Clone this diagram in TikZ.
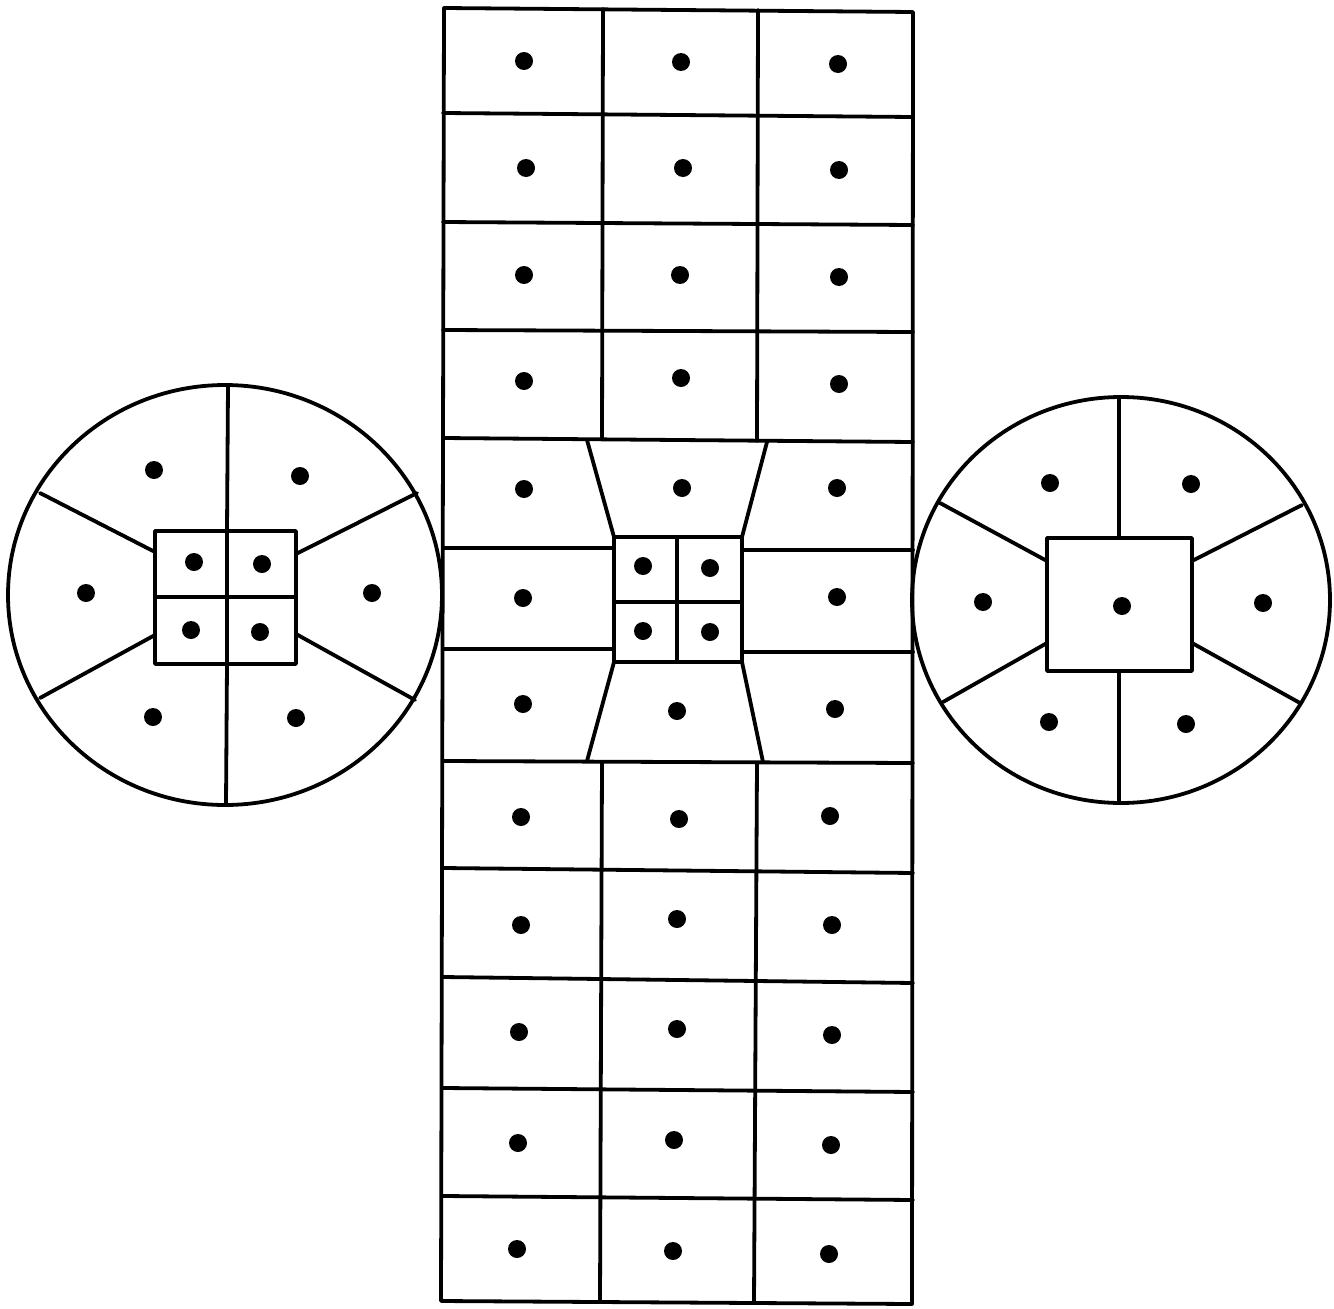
\documentclass[tikz,border=0pt]{standalone}
\begin{document}
\begin{tikzpicture}[x=1pt,y=-1pt,
  wall/.style={line width=3.8pt,line join=round,line cap=round},
  dotmark/.style={fill=black}]
\useasboundingbox (0,0) rectangle (1334,1309);
% ---- central strip ----
\draw[wall] (444,8) -- (913,12) -- (912,1304) -- (441,1301) -- cycle;
% full-width row lines
\foreach \yl/\yr in {113/117,222/225,330/332,438/442,761/763,868/873,977/983,1088/1092,1196/1200}
  \draw[wall] (443,\yl) -- (913,\yr);
% column lines upper and lower
\draw[wall] (603,9) -- (602,439);
\draw[wall] (758,10) -- (757,441);
\draw[wall] (602,762) -- (600,1302);
\draw[wall] (757,763) -- (754,1303);
% middle section
\draw[wall] (614,537) rectangle (742,662);
\draw[wall] (677,537) -- (677,662);
\draw[wall] (614,602) -- (742,602);
\draw[wall] (587,440) -- (614,537);
\draw[wall] (767,442) -- (742,537);
\draw[wall] (614,662) -- (587,761);
\draw[wall] (742,662) -- (763,762);
\draw[wall] (443,548) -- (614,548);
\draw[wall] (742,550) -- (913,550);
\draw[wall] (443,649) -- (614,649);
\draw[wall] (742,652) -- (913,652);
% dots of the strip
\foreach \p in {(524,61),(681,62),(838,64),
  (526,168),(683,168),(839,170),
  (524,275),(680,275),(839,277),
  (524,381),(681,378),(839,384),
  (524,489),(682,488),(837,488),
  (523,598),(837,597),
  (643,566),(710,568),(643,631),(710,632),
  (523,704),(677,711),(835,709),
  (521,817),(679,819),(830,816),
  (521,925),(677,919),(832,925),
  (519,1032),(677,1029),(832,1035),
  (518,1143),(674,1140),(831,1145),
  (517,1249),(673,1251),(829,1254)}
  \fill[dotmark] \p circle (9);
% ---- left circle ----
\draw[wall] (225,595) ellipse [x radius=217, y radius=210];
\draw[wall] (155,531) rectangle (296,664);
\draw[wall] (227,531) -- (227,664);
\draw[wall] (155,597) -- (296,597);
\draw[wall] (228,386) -- (227,531);
\draw[wall] (227,664) -- (226,804);
\draw[wall] (40,493) -- (155,552);
\draw[wall] (296,554) -- (417,493);
\draw[wall] (40,698) -- (155,635);
\draw[wall] (296,634) -- (415,700);
\foreach \p in {(154,470),(300,476),(86,593),(372,593),(153,717),(296,718),
  (194,562),(262,564),(191,630),(260,632)}
  \fill[dotmark] \p circle (9);
% ---- right circle ----
\draw[wall] (1121,600) ellipse [x radius=209, y radius=203];
\draw[wall] (1047,538) rectangle (1192,671);
\draw[wall] (1119,398) -- (1119,538);
\draw[wall] (1119,671) -- (1119,802);
\draw[wall] (940,503) -- (1047,561);
\draw[wall] (1192,561) -- (1302,505);
\draw[wall] (943,702) -- (1047,643);
\draw[wall] (1192,643) -- (1300,703);
\foreach \p in {(1050,483),(1191,484),(983,602),(1122,606),(1263,603),(1049,722),(1186,724)}
  \fill[dotmark] \p circle (9);
\end{tikzpicture}
\end{document}
